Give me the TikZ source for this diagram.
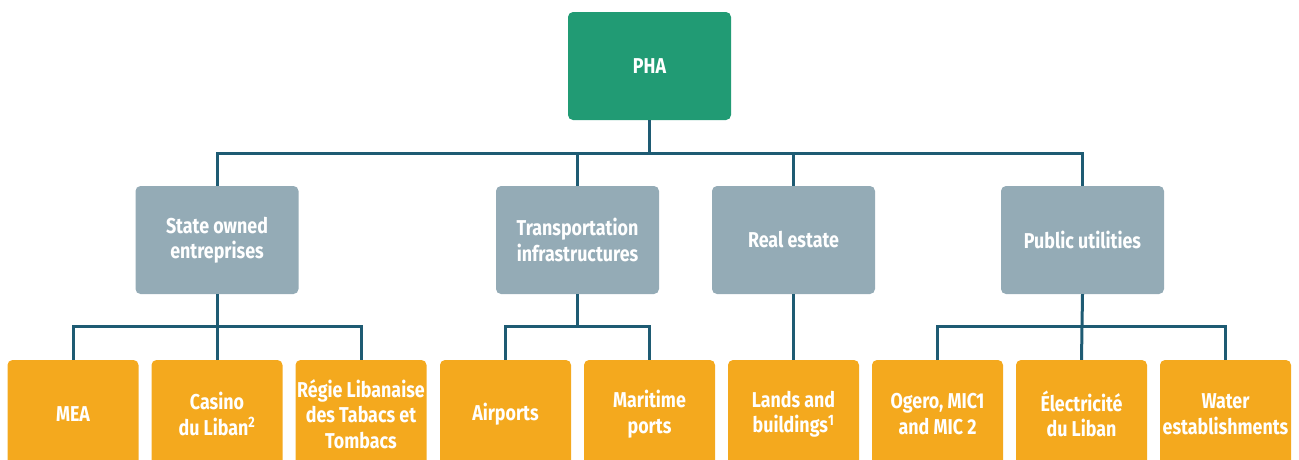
\documentclass[tikz,border=0pt]{standalone}
\usepackage{fontspec}
\setmainfont{Fira Sans}[FakeStretch=0.83]
\definecolor{phagreen}{HTML}{219B74}
\definecolor{sectorgray}{HTML}{94ABB6}
\definecolor{unitorange}{HTML}{F4A91E}
\definecolor{linkblue}{HTML}{1E5B73}

\begin{document}
\begin{tikzpicture}[x=1pt,y=-1pt]
	\tikzstyle{every node}+=[inner sep=0pt]
	\tikzstyle{box}=[rounded corners=5pt, minimum height=108pt, align=center, text=white,
		font=\bfseries\fontsize{21.5}{25.5}\selectfont]
	\tikzstyle{head}=[box, fill=phagreen, minimum width=163pt]
	\tikzstyle{sector}=[box, fill=sectorgray, minimum width=163pt]
	\tikzstyle{unit}=[box, fill=unitorange, minimum width=131pt]
	\tikzstyle{link}=[draw=linkblue, line width=3pt]
	\useasboundingbox (0,0) rectangle (1299,459);
	% top
	\node[head] (pha) at (649.5,66) {PHA};
	% sectors
	\node[sector] (soe) at (217,240) {State owned\\entreprises};
	\node[sector] (tra) at (577.5,240) {Transportation\\infrastructures};
	\node[sector] (res) at (793.5,240) {Real estate};
	\node[sector] (pu) at (1082.5,240) {Public utilities};
	% holdings
	\node[unit] (mea) at (73,414) {MEA};
	\node[unit] (cas) at (217,414) {Casino\\du Liban\textsuperscript{2}};
	\node[unit] (rlt) at (361,414) {Régie Libanaise\\des Tabacs et\\Tombacs};
	\node[unit] (air) at (505.5,414) {Airports};
	\node[unit] (mar) at (649.5,414) {Maritime\\ports};
	\node[unit] (lab) at (793.5,414) {Lands and\\buildings\textsuperscript{1}};
	\node[unit] (oge) at (937.5,414) {Ogero, MIC1\\and MIC 2};
	\node[unit] (edl) at (1081.5,414) {Électricité\\du Liban};
	\node[unit] (wat) at (1225.5,414) {Water\\establishments};
	\coordinate (bus) at (0,153);
	\coordinate (subbus) at (0,326);
	% links to the sectors
	\draw[link] (pha.south) -- (pha |- bus);
	\draw[link] (soe.north) |- (pu.north |- bus) -- (pu.north);
	\draw[link] (tra.north) -- (tra.north |- bus);
	\draw[link] (res.north) -- (res.north |- bus);
	% links to the holdings
	\draw[link] (soe.south) -- (cas.north);
	\draw[link] (mea.north) |- (rlt.north |- subbus) -- (rlt.north);
	\draw[link] (tra.south) -- (tra.south |- subbus);
	\draw[link] (air.north) |- (mar.north |- subbus) -- (mar.north);
	\draw[link] (res.south) -- (lab.north);
	\draw[link] (pu.south) -- (edl.north);
	\draw[link] (oge.north) |- (wat.north |- subbus) -- (wat.north);
\end{tikzpicture}
\end{document}
